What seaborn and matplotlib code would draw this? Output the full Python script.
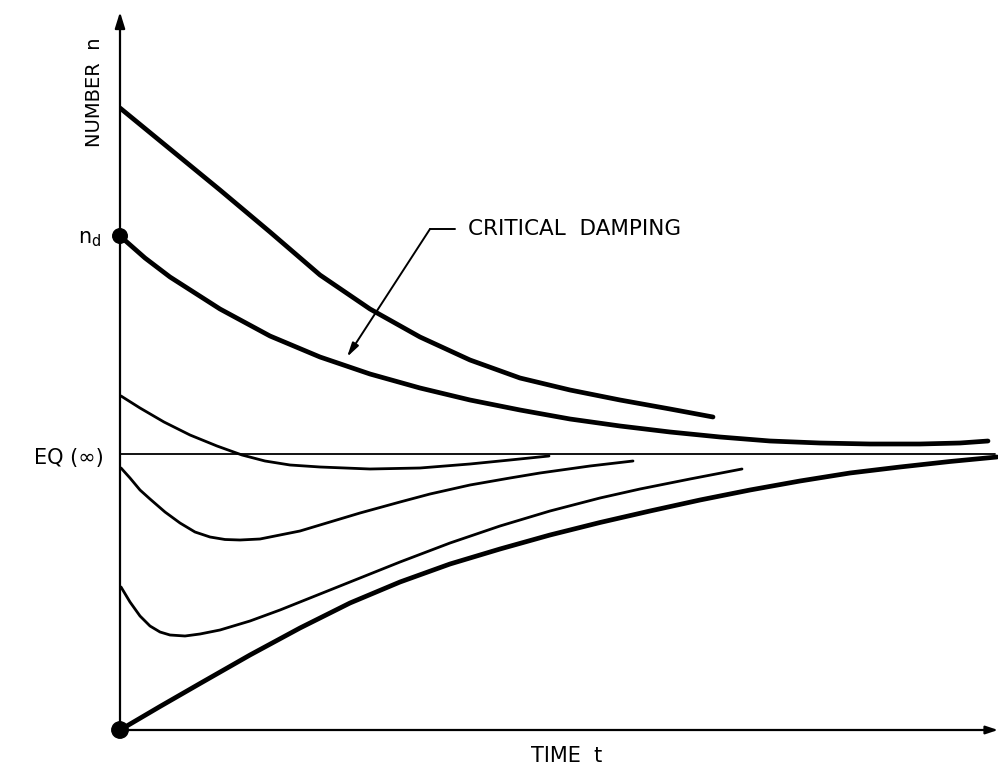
import numpy as np
import pandas as pd
import seaborn as sns
import matplotlib
matplotlib.use("Agg")
import matplotlib.pyplot as plt

# ---- data (time t, number n) ----
c1_t = [0.00, 0.50, 1.00, 1.50, 2.00, 2.50, 3.00, 3.50, 4.00, 4.50, 5.00, 5.50, 5.93]
c1_n = [6.22, 5.81, 5.40, 4.98, 4.55, 4.21, 3.93, 3.70, 3.52, 3.40, 3.30, 3.21, 3.13]

c2_t = [0.00, 0.25, 0.50, 1.00, 1.50, 2.00, 2.50, 3.00, 3.50, 4.00, 4.50, 5.00, 5.50, 6.00, 6.50, 7.00, 7.50, 8.00, 8.40, 8.68]
c2_n = [4.94, 4.72, 4.53, 4.21, 3.94, 3.73, 3.56, 3.42, 3.30, 3.20, 3.11, 3.04, 2.98, 2.93, 2.89, 2.87, 2.86, 2.86, 2.87, 2.89]

c3_t = [0.01, 0.20, 0.44, 0.70, 0.97, 1.22, 1.45, 1.70, 2.00, 2.50, 3.00, 3.50, 3.90, 4.29]
c3_n = [3.34, 3.22, 3.08, 2.95, 2.84, 2.75, 2.69, 2.65, 2.63, 2.61, 2.62, 2.66, 2.70, 2.74]

c4_t = [0.01, 0.10, 0.20, 0.30, 0.45, 0.60, 0.75, 0.90, 1.05, 1.20, 1.40, 1.60, 1.80, 2.10, 2.40, 2.80, 3.10, 3.50, 3.90, 4.20, 4.70, 5.13]
c4_n = [2.62, 2.52, 2.40, 2.31, 2.18, 2.07, 1.98, 1.93, 1.905, 1.90, 1.91, 1.95, 1.99, 2.08, 2.17, 2.28, 2.36, 2.45, 2.52, 2.57, 2.64, 2.69]

c5_t = [0.01, 0.10, 0.20, 0.30, 0.40, 0.50, 0.65, 0.80, 1.00, 1.30, 1.60, 2.00, 2.30, 2.80, 3.30, 3.80, 4.30, 4.80, 5.20, 5.70, 6.22]
c5_n = [1.43, 1.28, 1.14, 1.04, 0.98, 0.95, 0.94, 0.96, 1.00, 1.09, 1.20, 1.36, 1.48, 1.68, 1.87, 2.04, 2.19, 2.32, 2.41, 2.51, 2.61]

c6_t = [0.00, 0.40, 0.80, 1.30, 1.80, 2.30, 2.80, 3.30, 3.80, 4.30, 4.80, 5.30, 5.80, 6.30, 6.80, 7.30, 7.80, 8.30, 8.77]
c6_n = [0.00, 0.235, 0.465, 0.75, 1.02, 1.27, 1.48, 1.66, 1.81, 1.95, 2.075, 2.19, 2.30, 2.40, 2.49, 2.57, 2.63, 2.685, 2.73]

eq_level = 2.76
eq_t = [0.0, 8.75]
n_d = 4.94

curves = [
    ("overdamped high", c1_t, c1_n, 3.4),
    ("critical", c2_t, c2_n, 3.4),
    ("above eq", c3_t, c3_n, 2.0),
    ("just below eq", c4_t, c4_n, 2.0),
    ("below eq", c5_t, c5_n, 2.0),
    ("from zero", c6_t, c6_n, 3.4),
]

sns.set_theme(style="white")
plt.rcParams['font.family'] = ['DejaVu Sans']
plt.rcParams['text.color'] = 'black'

fig = plt.figure(figsize=(9.98, 7.70), dpi=100)
ax = fig.add_axes([120 / 998, 40 / 770, 878 / 998, 718 / 770])
ax.set_xlim(0, 8.78)
ax.set_ylim(0, 7.18)

for name, t, n, lw in curves:
    df = pd.DataFrame({"t": t, "n": n})
    sns.lineplot(data=df, x="t", y="n", ax=ax, color="black", linewidth=lw,
                 sort=False, estimator=None, solid_capstyle="round",
                 solid_joinstyle="round")

sns.lineplot(x=eq_t, y=[eq_level, eq_level], ax=ax, color="black", linewidth=1.3)

# axes with arrows
ax.annotate("", xy=(0, 7.18), xytext=(0, 0),
            arrowprops=dict(arrowstyle="-|>,head_length=0.8,head_width=0.25", lw=1.6,
                            color="black", shrinkA=0, shrinkB=0), annotation_clip=False)
ax.annotate("", xy=(8.78, 0), xytext=(0, 0),
            arrowprops=dict(arrowstyle="-|>,head_length=0.6,head_width=0.2", lw=1.6,
                            color="black", shrinkA=0, shrinkB=0), annotation_clip=False)

# dots
ax.scatter([0, 0], [n_d, 0], s=[110, 140], color="black", zorder=5, clip_on=False)

for s in ax.spines.values():
    s.set_visible(False)
ax.set_xticks([])
ax.set_yticks([])
ax.set_xlabel("")
ax.set_ylabel("")

fs = 15
ax.text(-0.25, 6.38, "NUMBER  n", rotation=90, ha="center", va="center", fontsize=fs - 1, color="black")
ax.text(-0.19, 4.87, r"n$_{\mathregular{d}}$", ha="right", va="baseline", fontsize=fs, color="black")
ax.text(-0.16, 2.72, "EQ (∞)", ha="right", va="center", fontsize=fs, color="black")
ax.text(4.47, -0.26, "TIME  t", ha="center", va="center", fontsize=fs, color="black")

# critical damping annotation
ax.plot([3.35, 3.10], [5.01, 5.01], color="black", lw=1.4)
ax.annotate("", xy=(2.27, 3.73), xytext=(3.10, 5.01),
            arrowprops=dict(arrowstyle="-|>,head_length=0.7,head_width=0.18", lw=1.4,
                            color="black", shrinkA=0, shrinkB=0))
ax.text(3.48, 5.01, "CRITICAL  DAMPING", ha="left", va="center", fontsize=fs + 0.5, color="black")

fig.savefig("out.png", dpi=100, facecolor="white")
